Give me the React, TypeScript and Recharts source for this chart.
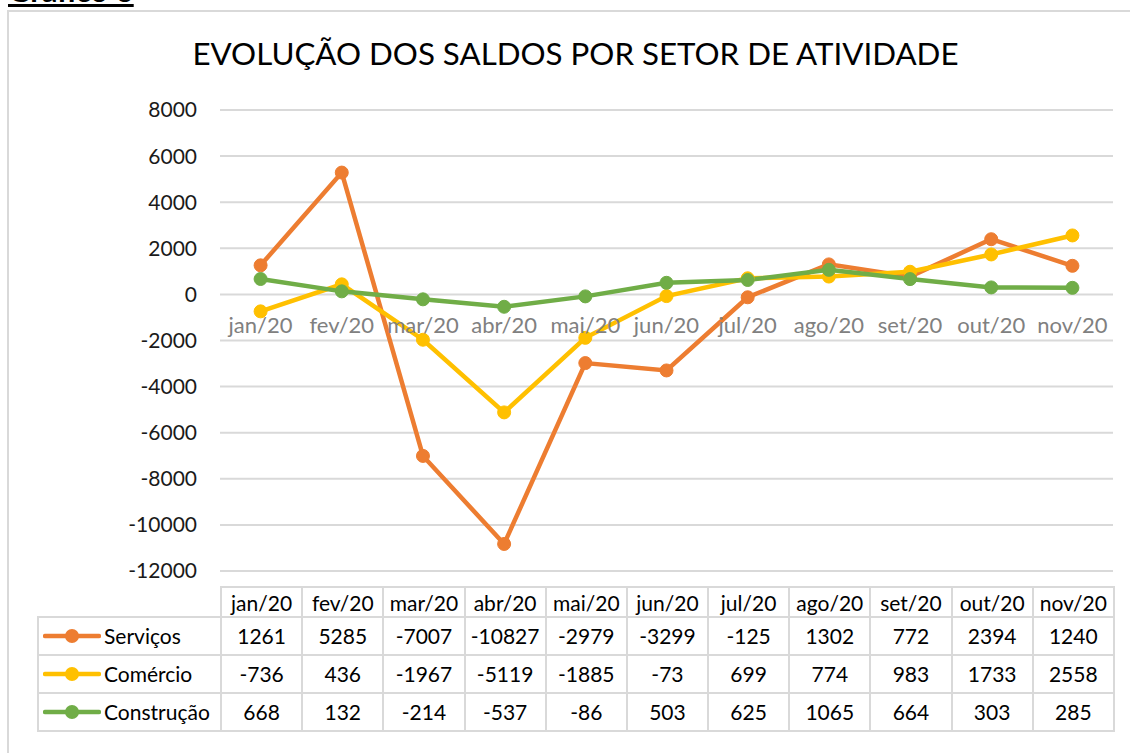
import React from "react";
import { LineChart, Line, XAxis, YAxis, CartesianGrid } from "recharts";

const months = ["jan/20", "fev/20", "mar/20", "abr/20", "mai/20", "jun/20", "jul/20", "ago/20", "set/20", "out/20", "nov/20"];
const servicos = [1261, 5285, -7007, -10827, -2979, -3299, -125, 1302, 772, 2394, 1240];
const comercio = [-736, 436, -1967, -5119, -1885, -73, 699, 774, 983, 1733, 2558];
const construcao = [668, 132, -214, -537, -86, 503, 625, 1065, 664, 303, 285];
const yTicks = [-12000, -10000, -8000, -6000, -4000, -2000, 0, 2000, 4000, 6000, 8000];

const series = [
  { key: "servicos", name: "Serviços", color: "#ED7D31", values: servicos },
  { key: "comercio", name: "Comércio", color: "#FFC000", values: comercio },
  { key: "construcao", name: "Construção", color: "#70AD47", values: construcao },
];

const data = months.map((m, i) => ({
  month: m,
  servicos: servicos[i],
  comercio: comercio[i],
  construcao: construcao[i],
}));

const FONT = "Lato, 'Open Sans', sans-serif";
const W = 1130;
const PLOT_TOP = 110;
const PLOT_BOTTOM = 571;
const PLOT_LEFT = 220;
const PLOT_RIGHT = 1113;
const Y_AXIS_W = 80;
const X_AXIS_H = 30;
const Y_MIN = -12000;
const Y_MAX = 8000;
const ZERO_Y = PLOT_TOP + ((PLOT_BOTTOM - PLOT_TOP) * Y_MAX) / (Y_MAX - Y_MIN);
const HALF_BAND = (PLOT_RIGHT - PLOT_LEFT) / months.length / 2;
const LEGEND_W = PLOT_LEFT - 37;
const COL_W = (PLOT_RIGHT - PLOT_LEFT) / months.length;

const border = "2px solid #d9d9d9";

function MonthTick(props: any) {
  const { x, payload } = props;
  return (
    <text x={x} y={ZERO_Y + 39} textAnchor="middle" fill="#808080" fontSize={22} fontFamily={FONT}>
      {payload.value}
    </text>
  );
}

function LegendKey({ color }: { color: string }) {
  return (
    <svg width={58} height={16} style={{ verticalAlign: "middle", marginRight: 3 }}>
      <line x1={2} y1={8} x2={56} y2={8} stroke={color} strokeWidth={4.5} strokeLinecap="round" />
      <circle cx={29} cy={8} r={7} fill={color} />
    </svg>
  );
}

export default function App() {
  return (
    <div style={{ position: "fixed", left: 0, top: 0, width: W, height: 753, background: "#fff", overflow: "hidden", fontFamily: FONT }}>
      {/* page caption, cut at the top edge like in the source screenshot */}
      <div style={{ position: "absolute", left: 8, top: -29, fontSize: 31, fontWeight: 700, textDecoration: "underline", color: "#000" }}>
        Gráfico 6
      </div>
      <div style={{ position: "absolute", left: 7, top: 10, width: 1200, height: 900, borderLeft: border, borderTop: border }} />
      <div style={{ position: "absolute", left: 0, right: 0, top: 34, textAlign: "center", fontSize: 31.3, color: "#000", paddingLeft: 21 }}>
        EVOLUÇÃO DOS SALDOS POR SETOR DE ATIVIDADE
      </div>
      <div style={{ position: "absolute", left: 0, top: 0 }}>
        <LineChart
          width={W}
          height={PLOT_BOTTOM + X_AXIS_H}
          data={data}
          margin={{ top: PLOT_TOP, right: W - PLOT_RIGHT, bottom: 0, left: PLOT_LEFT - Y_AXIS_W }}
        >
          <CartesianGrid vertical={false} stroke="#d9d9d9" strokeWidth={2} />
          <XAxis
            dataKey="month"
            height={X_AXIS_H}
            axisLine={false}
            tickLine={false}
            interval={0}
            padding={{ left: HALF_BAND, right: HALF_BAND }}
            tick={<MonthTick />}
          />
          <YAxis
            width={Y_AXIS_W}
            domain={[Y_MIN, Y_MAX]}
            ticks={yTicks}
            interval={0}
            axisLine={false}
            tickLine={false}
            tickMargin={17}
            tick={{ fill: "#1a1a1a", fontSize: 21, fontFamily: FONT }}
          />
          {series.map((s) => (
            <Line
              key={s.key}
              dataKey={s.key}
              name={s.name}
              type="linear"
              stroke={s.color}
              strokeWidth={4.5}
              dot={{ r: 6.5, fill: s.color, stroke: s.color, strokeWidth: 1 }}
              isAnimationActive={false}
            />
          ))}
        </LineChart>
      </div>
      <table
        style={{
          position: "absolute",
          left: 37,
          top: 586,
          borderCollapse: "collapse",
          tableLayout: "fixed",
          width: PLOT_RIGHT - 37,
          fontSize: 21,
          color: "#000",
        }}
      >
        <colgroup>
          <col style={{ width: LEGEND_W }} />
          {months.map((m) => (
            <col key={m} style={{ width: COL_W }} />
          ))}
        </colgroup>
        <tbody>
          <tr style={{ height: 30 }}>
            <td style={{ border: "none", padding: 0 }} />
            {months.map((m) => (
              <td key={m} style={{ border, textAlign: "center", padding: 0 }}>
                {m}
              </td>
            ))}
          </tr>
          {series.map((s) => (
            <tr key={s.key} style={{ height: 38 }}>
              <td style={{ border, padding: "0 0 3px 4px", whiteSpace: "nowrap" }}>
                <LegendKey color={s.color} />
                <span style={{ verticalAlign: "middle" }}>{s.name}</span>
              </td>
              {s.values.map((v, i) => (
                <td key={i} style={{ border, textAlign: "center", padding: "0 0 2px 0" }}>
                  {v}
                </td>
              ))}
            </tr>
          ))}
        </tbody>
      </table>
    </div>
  );
}
